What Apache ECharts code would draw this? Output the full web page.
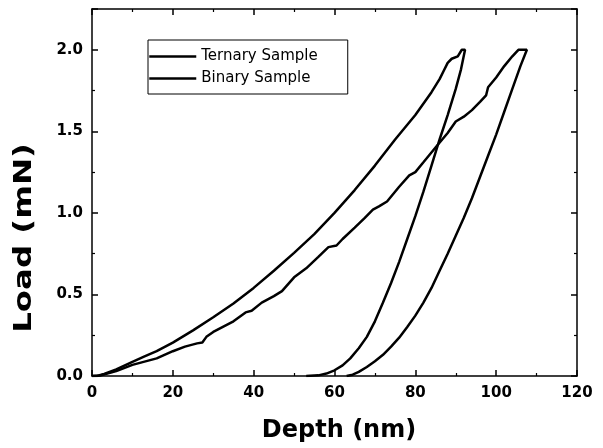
<!DOCTYPE html>
<html>
<head>
<meta charset="utf-8">
<script src="https://cdn.jsdelivr.net/npm/echarts@6/dist/echarts.min.js"></script>
<style>
html,body{margin:0;padding:0;background:#fff;}
#chart{width:603px;height:448px;}
</style>
</head>
<body>
<div id="chart"></div>
<script>
// Ternary sample: loading then unloading (Depth nm, Load mN)
const ternaryDepth = [0,1.2,3,6,10,13,16,20,25,30,35,40,45,50,55,60,65,70,75,80,84,86,87,88,89,90.5,91.5,92.3,
  91.3,90,88,86,84,82,80,78,76,74,72,70,68,66,63.9,62,60,58,56,53];
const ternaryLoad  = [0,0,0.012,0.04,0.087,0.12,0.152,0.205,0.28,0.36,0.445,0.54,0.645,0.755,0.87,1.0,1.14,1.29,1.45,1.6,1.74,1.82,1.87,1.92,1.945,1.96,2.0,2.0,
  1.88,1.76,1.6,1.45,1.29,1.13,0.98,0.84,0.7,0.57,0.45,0.335,0.24,0.17,0.108,0.065,0.035,0.015,0.004,0];
// Binary sample
const binaryDepth = [0,2,6,10,13,16,20,23,26,27.3,28.3,30,35,38,39.5,42,45,47,50,53,56,58.5,60.5,62,65,67.5,69.5,71,73,76,78.5,80,82,85.3,88,90,92,94,96,97.5,98,100,102,104,105.5,107.6,
  106,104,102,100,98,96,94,92,90,88,86,84,82,80,78,76,74,72,70,68,66,64.5,63];
const binaryLoad  = [0,0.003,0.03,0.068,0.088,0.108,0.152,0.18,0.2,0.205,0.24,0.27,0.335,0.39,0.4,0.45,0.49,0.52,0.605,0.66,0.73,0.79,0.8,0.84,0.91,0.97,1.02,1.04,1.07,1.16,1.23,1.25,1.31,1.41,1.49,1.56,1.59,1.63,1.68,1.72,1.77,1.83,1.9,1.96,2.0,2.0,
  1.9,1.76,1.62,1.48,1.35,1.22,1.09,0.97,0.86,0.75,0.645,0.54,0.45,0.37,0.3,0.235,0.18,0.13,0.09,0.055,0.025,0.008,0];
const seriesNames = ['Ternary Sample','Binary Sample'];
const xLabel = 'Depth (nm)';
const yLabel = 'Load (mN)';

const zip = (a,b) => a.map((v,i)=>[v,b[i]]);
const chart = echarts.init(document.getElementById('chart'));
const boldFont = {fontFamily:'DejaVu Sans', fontWeight:'bold', color:'#000'};
const axisCommon = {
  axisLine:{show:true, onZero:false, lineStyle:{color:'#000', width:1.5}},
  axisTick:{show:true, inside:true, length:6, lineStyle:{color:'#000', width:1.5}},
  minorTick:{show:true, splitNumber:2, length:3, lineStyle:{color:'#000', width:1.2}},
  splitLine:{show:false}
};
chart.setOption({
  animation:false,
  backgroundColor:'#fff',
  grid:{left:92, right:26, top:9, bottom:72, containLabel:false},
  xAxis:[
    Object.assign({type:'value', min:0, max:120, interval:20, position:'bottom',
      axisLabel:Object.assign({fontSize:15, margin:10}, boldFont)}, axisCommon),
    Object.assign({type:'value', min:0, max:120, interval:20, position:'top',
      axisLabel:{show:false}}, axisCommon)
  ],
  yAxis:[
    Object.assign({type:'value', min:0, max:2.25, interval:0.5, position:'left',
      axisLabel:Object.assign({fontSize:15, margin:9, showMaxLabel:false,
        formatter:v=>v.toFixed(1)}, boldFont)}, axisCommon),
    Object.assign({type:'value', min:0, max:2.25, interval:0.5, position:'right',
      axisLabel:{show:false}}, axisCommon)
  ],
  legend:{
    orient:'vertical', left:148, top:40,
    itemWidth:47, itemHeight:14, itemGap:7,
    padding:[9,30,8,0],
    borderColor:'#000', borderWidth:1,
    itemStyle:{opacity:0},
    lineStyle:{color:'#000', width:2.5, opacity:1},
    textStyle:{fontFamily:'DejaVu Sans', fontSize:15, color:'#000'},
    data:seriesNames
  },
  graphic:[
    {type:'text', x:339, y:431,
      style:{text:xLabel, fontFamily:'DejaVu Sans', fontWeight:'bold', fontSize:24, fill:'#000', align:'center', verticalAlign:'middle'}},
    {type:'text', x:25, y:238, rotation:Math.PI/2, scaleX:1.35,
      style:{text:yLabel, fontFamily:'DejaVu Sans', fontWeight:'bold', fontSize:24, fill:'#000', align:'center', verticalAlign:'middle'}}
  ],
  series:[
    {name:seriesNames[0], type:'line', data:zip(ternaryDepth, ternaryLoad), symbol:'none', showSymbol:false,
      lineStyle:{color:'#000', width:2.5}, itemStyle:{color:'#000'}},
    {name:seriesNames[1], type:'line', data:zip(binaryDepth, binaryLoad), symbol:'none', showSymbol:false,
      lineStyle:{color:'#000', width:2.5}, itemStyle:{color:'#000'}}
  ]
});
</script>
</body>
</html>
